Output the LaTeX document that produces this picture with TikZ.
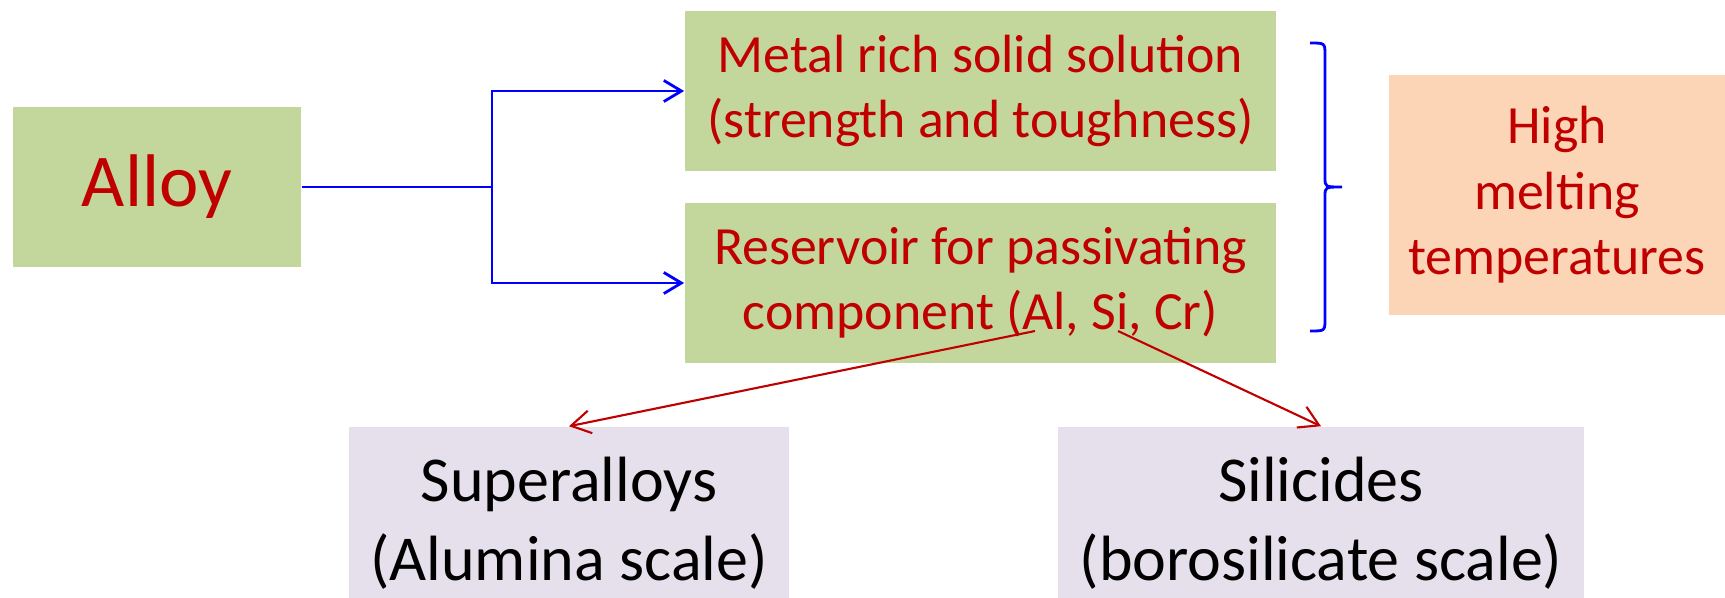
\documentclass[tikz,border=0pt]{standalone}
\usepackage{fontspec}
\setmainfont{Carlito}
\usetikzlibrary{arrows.meta, positioning}
\definecolor{boxgreen}{HTML}{C3D69B}
\definecolor{boxorange}{HTML}{FBD5B5}
\definecolor{boxlilac}{HTML}{E5E0EC}
\definecolor{textred}{HTML}{C00000}
\definecolor{linkblue}{HTML}{0000FF}

\begin{document}
\begin{tikzpicture}[
			x=0.01cm, y=-0.01cm,
			greenbox/.style={fill=boxgreen, text=textred, align=center, inner sep=0pt, minimum width=5.91cm, minimum height=1.6cm, font=\fontsize{15.3}{18.4}\selectfont},
			orangebox/.style={fill=boxorange, text=textred, align=center, inner sep=0pt, minimum width=3.36cm, minimum height=2.4cm, font=\fontsize{15.3}{18.6}\selectfont},
			lilacbox/.style={fill=boxlilac, text=black, align=center, inner sep=0pt, minimum height=1.92cm, font=\fontsize{18.2}{22.3}\selectfont},
			bluearrow/.style={-{Straight Barb[length=5pt, width=6pt]}, line width=0.8pt, linkblue},
			redarrow/.style={-{Straight Barb[length=5.5pt, width=6.5pt]}, line width=0.6pt, textred}
		]
		\useasboundingbox (0,0) rectangle (1725,597);
		\node[greenbox, minimum width=2.88cm, font=\fontsize{21.2}{25}\selectfont] (alloy) at (157,187) {\raisebox{-4.5pt}{Alloy}};
		\node[greenbox] (metal) at (980.5,91) {Metal rich solid solution\\(strength and toughness)};
		\node[greenbox] (reservoir) at (980.5,283) {Reservoir for passivating\\component (Al, Si, Cr)};
		\node[orangebox] (melting) at (1557,195) {High\\melting\\temperatures};
		\node[lilacbox, minimum width=4.40cm] (super) at (569,523) {Superalloys\\(Alumina scale)};
		\node[lilacbox, minimum width=5.26cm] (silicides) at (1321,523) {Silicides\\(borosilicate scale)};
		% split point and arrow starts on the text
		\coordinate (split) at (492,187);
		\coordinate (alstart) at (1035,331);
		\coordinate (sistart) at (1118,331);
		\draw[line width=0.8pt, linkblue] (alloy.east) -- (split);
		\draw[bluearrow] (split) |- (metal.west);
		\draw[bluearrow] (split) |- (reservoir.west);
		\draw[redarrow] (alstart) -- (super.north);
		\draw[redarrow] (sistart) -- (silicides.north);
		% brace
		\draw[line width=0.8pt, linkblue] (1310,43) .. controls (1325,43) .. (1325,55) -- (1325,178)
			.. controls (1325,187) .. (1342,187) .. controls (1325,187) .. (1325,196)
			-- (1325,319) .. controls (1325,331) .. (1310,331);
	\end{tikzpicture}
\end{document}
